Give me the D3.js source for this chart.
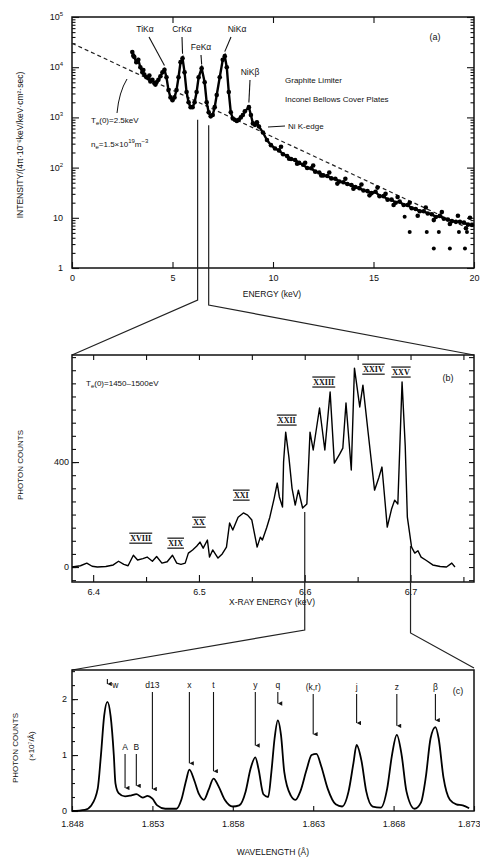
<!DOCTYPE html>
<html>
<head>
<meta charset="utf-8">
<script src="https://cdn.jsdelivr.net/npm/d3@7"></script>
<style>
  body { margin: 0; background: #fff; }
  svg { display: block; font-family: "Liberation Sans", Arial, sans-serif; }
  .axis path { display: none; }
  .axis line { stroke: #111; stroke-width: 1.1; }
  .axis text { fill: #111; font-size: 9px; }
  text { fill: #111; }
</style>
</head>
<body>
<svg></svg>
<script>
// ---------- panel (a): broad-band spectrum ----------
const aEnergy = [3.0,3.1,3.2,3.3,3.4,3.5,3.6,3.7,3.8,3.9,4.0,4.1,4.2,4.3,4.4,4.5,4.6,4.7,4.8,4.9,
  5.0,5.1,5.2,5.3,5.4,5.5,5.6,5.7,5.8,5.9,6.0,6.1,6.2,6.3,6.45,6.6,6.7,6.8,6.9,7.0,
  7.1,7.2,7.35,7.5,7.6,7.7,7.8,7.9,8.0,8.1,8.2,8.3,8.4,8.5,8.6,8.8,8.9,9.0,9.1,9.2,
  9.3,9.5,9.7,9.9,10.1,10.3,10.5,10.7,10.9,11.1,11.3,11.5,11.7,11.9,12.1,12.3,12.5,12.7,12.9,13.1,
  13.3,13.5,13.7,13.9,14.1,14.3,14.5,14.7,14.9,15.1,15.3,15.5,15.7,15.9,16.1,16.3,16.5,16.7,16.9,17.1,
  17.3,17.5,17.7,17.9,18.1,18.3,18.5,18.7,18.9,19.1,19.3,19.5,19.7,19.9];
const aIntensity = [20000,16000,12600,14000,10000,7900,7100,6300,6000,5200,5600,4800,5000,5600,6600,7900,8900,6300,3500,2500,
  2200,2500,3500,6300,12600,15000,7900,3200,2000,1600,1600,2000,3200,6300,9500,5000,2000,1260,1050,1120,
  1600,2800,6300,14000,16600,10000,3200,1260,950,900,850,900,1000,1120,1320,1600,1120,760,710,800,
  660,500,355,280,240,220,185,170,148,142,124,114,98,97,83,80,70,68,61,60,
  53,51,47,45,41,39,35,34,31,33,27,27,23,23,20,21,18,18,15.5,15,
  13.5,13.5,12.2,11.8,10.4,10.9,9.6,9.2,8.6,8.3,8.3,8.0,7.3,7.2];
const aExtraE = [3.05,3.25,3.55,3.85,4.15,10.4,10.8,11.2,11.6,12.0,12.4,12.8,13.2,13.6,14.0,14.4,14.8,15.2,15.6,16.0,16.2,16.8,17.2,17.6,18.0,18.4,18.8,19.2,19.6,19.8];
const aExtraI = [17000,13000,8800,6800,4500,260,150,120,125,110,70,80,48,60,38,46,28,40,30,18,26,20,11,16,9,13,7.5,11,6.2,10];
const aOutE = [16.55,16.8,17.65,18.25,19.25,19.65,18.0,18.8,19.55];
const aOutI = [10.5,5.2,5.2,5.2,5.2,5.2,2.45,2.45,2.45];
const aFitE = [0, 19.6];
const aFitI = [30000, 6.5];
const aYTicks = [1, 10, 100, 1000, 10000, 100000];
const aYTickLabels = [["1",""],["10",""],["10","2"],["10","3"],["10","4"],["10","5"]];
const aLineNames = ["TiKα","CrKα","FeKα","NiKα","NiKβ"];
const aLineE = [4.6, 5.5, 6.45, 7.6, 8.8];
const aLineI = [9000, 15500, 9600, 17000, 1650];

// ---------- panel (b): Fe K spectrum ----------
const bEnergy = [6.380,6.388,6.394,6.399,6.404,6.412,6.419,6.424,6.429,6.433,6.438,6.442,6.447,6.451,6.456,6.460,6.465,6.470,6.475,6.479,
  6.483,6.487,6.490,6.494,6.498,6.501,6.504,6.508,6.510,6.513,6.518,6.522,6.526,6.529,6.532,6.537,6.542,6.546,6.550,6.555,
  6.558,6.560,6.564,6.567,6.571,6.574,6.576,6.579,6.580,6.582,6.585,6.588,6.591,6.594,6.598,6.602,6.605,6.608,6.614,6.619,
  6.624,6.628,6.633,6.636,6.639,6.644,6.647,6.652,6.655,6.660,6.666,6.670,6.673,6.676,6.678,6.682,6.685,6.688,6.692,6.695,
  6.697,6.701,6.704,6.707,6.710,6.715,6.721,6.728,6.734,6.739,6.742];
const bCounts = [0,5,15,3,0,2,8,22,10,5,45,27,32,38,22,40,15,20,45,15,
  10,15,53,65,80,95,72,103,38,65,34,50,76,168,141,190,206,198,179,76,
  114,103,150,190,260,320,267,229,400,514,420,300,236,293,225,240,514,446,606,446,
  667,396,430,453,625,370,758,610,693,510,293,340,381,244,152,220,255,240,705,460,
  190,76,53,62,38,25,8,2,0,15,0];
const bIons = ["XVIII","XIX","XX","XXI","XXII","XXIII","XXIV","XXV"];
const bIonE = [6.445,6.478,6.500,6.540,6.583,6.618,6.665,6.691];
const bIonC = [110,91,171,274,560,705,754,743];

// ---------- panel (c): He-like Fe resonance region ----------
const cLambda = [1.8480,1.8488,1.8492,1.8496,1.8498,1.8500,1.8502,1.8504,1.8506,1.8507,1.8509,1.8513,1.8517,1.8520,1.8524,1.8527,1.8530,1.8533,1.8538,1.8545,
  1.8548,1.8551,1.8553,1.8556,1.8559,1.8562,1.8565,1.8568,1.8571,1.8575,1.8580,1.8584,1.8588,1.8591,1.8594,1.8596,1.8599,1.8602,1.8604,1.8606,
  1.8608,1.8610,1.8612,1.8616,1.8619,1.8622,1.8626,1.8629,1.8632,1.8635,1.8639,1.8644,1.8648,1.8652,1.8655,1.8657,1.8660,1.8663,1.8667,1.8672,
  1.8676,1.8679,1.8682,1.8685,1.8688,1.8693,1.8697,1.8700,1.8703,1.8706,1.8708,1.8711,1.8715,1.8719,1.8723,1.8727];
const cCounts = [0,0.02,0.1,0.4,1.0,1.7,1.95,1.7,1.0,0.5,0.32,0.26,0.28,0.3,0.24,0.27,0.22,0.1,0.04,0.04,
  0.2,0.55,0.74,0.55,0.3,0.2,0.38,0.58,0.45,0.2,0.08,0.1,0.35,0.75,0.96,0.75,0.3,0.25,0.7,1.3,
  1.62,1.35,0.7,0.28,0.2,0.35,0.75,1.0,1.02,0.8,0.4,0.12,0.08,0.35,0.85,1.18,0.9,0.35,0.08,0.06,
  0.4,1.0,1.36,1.0,0.35,0.04,0.15,0.6,1.3,1.5,1.3,0.6,0.2,0.12,0.1,0.05];
const cNames = ["w","A","B","d13","x","t","y","q","(k,r)","j","z","β"];
const cNameLambda = [1.8502,1.8513,1.8520,1.8530,1.8553,1.8568,1.8594,1.8608,1.8630,1.8657,1.8682,1.8706];
const cArrowTip = [2.2,0.34,0.38,0.32,0.78,0.64,1.1,1.85,1.3,1.5,1.45,1.55];

// ---------- layout ----------
const width = 480, height = 863;
const left = 72, right = 474;
const svg = d3.select("svg").attr("width", width).attr("height", height);

function frame(top, bottom) {
  svg.append("rect").attr("x", left).attr("y", top)
    .attr("width", right - left).attr("height", bottom - top)
    .attr("fill", "none").attr("stroke", "#111").attr("stroke-width", 1.5);
}
function addAxis(axis, tx, ty, showText) {
  const g = svg.append("g").attr("class", "axis")
    .attr("transform", `translate(${tx},${ty})`).call(axis);
  if (!showText) g.selectAll("text").remove();
  return g;
}
function range(a, b, s) { return d3.range(a, b + s / 2, s); }

// ======== panel (a) ========
const aTop = 17, aBot = 268;
const xA = d3.scaleLinear().domain([0, 20]).range([left, right]);
const yA = d3.scaleLog().domain([1, 1e5]).range([aBot, aTop]);
const aMinor = [];
aYTicks.slice(0, -1).forEach(d => { for (let k = 2; k <= 9; k++) aMinor.push(d * k); });

frame(aTop, aBot);
addAxis(d3.axisBottom(xA).tickValues([0, 5, 10, 15, 20]).tickSize(-6).tickPadding(7), 0, aBot, true);
addAxis(d3.axisTop(xA).tickValues([5, 10, 15]).tickSize(-6), 0, aTop, false);
addAxis(d3.axisLeft(yA).tickValues(aYTicks).tickSize(-7), left, 0, false);
addAxis(d3.axisLeft(yA).tickValues(aMinor).tickSize(-3.5), left, 0, false);
addAxis(d3.axisRight(yA).tickValues(aYTicks).tickSize(-7), right, 0, false);
addAxis(d3.axisRight(yA).tickValues(aMinor).tickSize(-3.5), right, 0, false);

aYTicks.forEach((v, i) => {
  const t = svg.append("text").attr("x", 63).attr("y", yA(v) + 3)
    .attr("text-anchor", "end").style("font-size", "9px");
  t.append("tspan").text(aYTickLabels[i][0]);
  if (aYTickLabels[i][1]) t.append("tspan").attr("dy", -4).style("font-size", "6px").text(aYTickLabels[i][1]);
});

// exponential fit (dashed)
svg.append("line")
  .attr("x1", xA(aFitE[0])).attr("y1", yA(aFitI[0]))
  .attr("x2", xA(aFitE[1])).attr("y2", yA(aFitI[1]))
  .attr("stroke", "#222").attr("stroke-width", 1.2).attr("stroke-dasharray", "4,3");

const aPts = aEnergy.map((e, i) => [e, aIntensity[i]]);
svg.append("path").datum(aPts)
  .attr("d", d3.line().x(d => xA(d[0])).y(d => yA(d[1])))
  .attr("fill", "none").attr("stroke", "#000").attr("stroke-width", 2.4);
svg.append("g").selectAll("circle").data(aPts.concat(aExtraE.map((e, i) => [e, aExtraI[i]])))
  .join("circle").attr("cx", d => xA(d[0])).attr("cy", d => yA(d[1])).attr("r", 2.3).attr("fill", "#000");
svg.append("g").selectAll("circle").data(aOutE.map((e, i) => [e, aOutI[i]]))
  .join("circle").attr("cx", d => xA(d[0])).attr("cy", d => yA(d[1])).attr("r", 2).attr("fill", "#000");

// line identifications
const aLabelPos = [[145, 32], [182, 32], [201, 50], [237, 32], [250, 75]];
aLineNames.forEach((n, i) => {
  const [lx, ly] = aLabelPos[i];
  svg.append("text").attr("x", lx).attr("y", ly).attr("text-anchor", "middle")
    .style("font-size", "8.5px").text(n);
  svg.append("line").attr("x1", lx + (i === 0 ? 4 : i === 3 ? -6 : 0)).attr("y1", ly + 5)
    .attr("x2", xA(aLineE[i])).attr("y2", yA(aLineI[i]) - 4)
    .attr("stroke", "#111").attr("stroke-width", 1.1);
});
svg.append("text").attr("x", 435).attr("y", 40).attr("text-anchor", "middle").style("font-size", "9px").text("(a)");
svg.append("text").attr("x", 285).attr("y", 83).style("font-size", "8px").text("Graphite Limiter");
svg.append("text").attr("x", 285).attr("y", 102).style("font-size", "8px").text("Inconel Bellows Cover Plates");
svg.append("text").attr("x", 288).attr("y", 129).style("font-size", "8px").text("Ni K-edge");
svg.append("line").attr("x1", 268).attr("y1", 127).attr("x2", 285).attr("y2", 126).attr("stroke", "#111");
const te = svg.append("text").attr("x", 91).attr("y", 123).style("font-size", "8px");
te.append("tspan").text("T");
te.append("tspan").attr("dy", 2).style("font-size", "6px").text("e");
te.append("tspan").attr("dy", -2).text("(0)=2.5keV");
const ne = svg.append("text").attr("x", 91).attr("y", 147).style("font-size", "8px");
ne.append("tspan").text("n");
ne.append("tspan").attr("dy", 2).style("font-size", "6px").text("e");
ne.append("tspan").attr("dy", -2).text("=1.5×10");
ne.append("tspan").attr("dy", -4).style("font-size", "6px").text("19");
ne.append("tspan").attr("dy", 4).text("m");
ne.append("tspan").attr("dy", -4).style("font-size", "6px").text("−3");
svg.append("path").attr("d", "M117,113 Q119,92 127,79").attr("fill", "none").attr("stroke", "#111");
svg.append("text").attr("transform", "translate(23,145) rotate(-90)").attr("text-anchor", "middle")
  .style("font-size", "8.5px").text("INTENSITY/(4π·10⁻⁶keV/keV·cm²·sec)");
svg.append("text").attr("x", 272).attr("y", 297).attr("text-anchor", "middle")
  .style("font-size", "8.5px").text("ENERGY (keV)");

// ======== panel (b) ========
const bTop = 355, bBot = 582;
const xB = d3.scaleLinear().domain([6.38, 6.76]).range([left, right]);
const yB = d3.scaleLinear().domain([-57, 808]).range([bBot, bTop]);

// zoom connectors from (a) to (b)
svg.append("path").attr("d", `M${xA(6.25)},${yA(900)} V300 L${left},${bTop}`)
  .attr("fill", "none").attr("stroke", "#222").attr("stroke-width", 1.2);
svg.append("path").attr("d", `M${xA(6.8)},${yA(700)} V305 L${right},${bTop}`)
  .attr("fill", "none").attr("stroke", "#222").attr("stroke-width", 1.2);

frame(bTop, bBot);
addAxis(d3.axisBottom(xB).tickValues([6.4, 6.5, 6.6, 6.7]).tickSize(-7).tickPadding(7).tickFormat(d3.format(".1f")), 0, bBot, true);
addAxis(d3.axisBottom(xB).tickValues([6.45, 6.55, 6.65, 6.75]).tickSize(-5), 0, bBot, false);
addAxis(d3.axisTop(xB).tickValues([6.4, 6.45, 6.5, 6.55, 6.6, 6.65, 6.7, 6.75]).tickSize(-5), 0, bTop, false);
addAxis(d3.axisLeft(yB).tickValues([0, 400]).tickSize(-7).tickPadding(3), left, 0, true);
addAxis(d3.axisLeft(yB).tickValues(range(-50, 800, 50)).tickSize(-4), left, 0, false);
addAxis(d3.axisRight(yB).tickValues(range(-50, 800, 50)).tickSize(-5), right, 0, false);

svg.append("path").datum(bEnergy.map((e, i) => [e, bCounts[i]]))
  .attr("d", d3.line().x(d => xB(d[0])).y(d => yB(d[1])))
  .attr("fill", "none").attr("stroke", "#000").attr("stroke-width", 1.4).attr("stroke-linejoin", "round");

bIons.forEach((n, i) => {
  const cx = xB(bIonE[i]), cy = yB(bIonC[i]);
  const t = svg.append("text").attr("x", cx).attr("y", cy + 3).attr("text-anchor", "middle")
    .style("font-size", "8px").style("font-family", "'Liberation Serif', serif").style("font-weight", "bold").text(n);
  const w = t.node().getComputedTextLength() + 2;
  [cy - 5, cy + 5].forEach(yy => svg.append("line")
    .attr("x1", cx - w / 2).attr("x2", cx + w / 2).attr("y1", yy).attr("y2", yy)
    .attr("stroke", "#111").attr("stroke-width", 1.2));
});
const tb = svg.append("text").attr("x", 86).attr("y", 386).style("font-size", "8px");
tb.append("tspan").text("T");
tb.append("tspan").attr("dy", 2).style("font-size", "6px").text("e");
tb.append("tspan").attr("dy", -2).text("(0)=1450–1500eV");
svg.append("text").attr("x", 448).attr("y", 381).attr("text-anchor", "middle").style("font-size", "9px").text("(b)");
svg.append("text").attr("transform", "translate(23,465) rotate(-90)").attr("text-anchor", "middle")
  .style("font-size", "8px").text("PHOTON COUNTS");
svg.append("text").attr("x", 272).attr("y", 605).attr("text-anchor", "middle")
  .style("font-size", "8.5px").text("X-RAY ENERGY (keV)");

// ======== panel (c) ========
const cTop = 670, cBot = 811;
const xC = d3.scaleLinear().domain([1.848, 1.873]).range([left, right]);
const yC = d3.scaleLinear().domain([0, 2.52]).range([cBot, cTop]);

// zoom connectors from (b) to (c)
svg.append("path").attr("d", `M${xB(6.6)},${yB(225) + 4} V630 L${left},${cTop}`)
  .attr("fill", "none").attr("stroke", "#222").attr("stroke-width", 1.2);
svg.append("path").attr("d", `M${xB(6.7)},${yB(80)} V633 L${right},${cTop - 2}`)
  .attr("fill", "none").attr("stroke", "#222").attr("stroke-width", 1.2);

frame(cTop, cBot);
const cx = addAxis(d3.axisBottom(xC).tickValues(range(1.848, 1.873, 0.005)).tickSize(-5).tickPadding(10).tickFormat(d3.format(".3f")), 0, cBot, true);
cx.selectAll(".tick:last-of-type text").attr("text-anchor", "end").attr("x", 6);
addAxis(d3.axisLeft(yC).tickValues([0, 1, 2]).tickSize(-6).tickPadding(5).tickFormat(d3.format("d")), left, 0, true);
addAxis(d3.axisLeft(yC).tickValues(range(0.25, 2.5, 0.25)).tickSize(-3), left, 0, false);

svg.append("path").datum(cLambda.map((l, i) => [l, cCounts[i]]))
  .attr("d", d3.line().curve(d3.curveMonotoneX).x(d => xC(d[0])).y(d => yC(d[1])))
  .attr("fill", "none").attr("stroke", "#000").attr("stroke-width", 1.8);

svg.append("defs").append("marker").attr("id", "arr")
  .attr("viewBox", "0 0 6 6").attr("refX", 3).attr("refY", 6)
  .attr("markerWidth", 4).attr("markerHeight", 5).attr("orient", "auto-start-reverse")
  .append("path").attr("d", "M0,0 L3,6 L6,0 Z").attr("fill", "#111");

cNames.forEach((n, i) => {
  const x = xC(cNameLambda[i]);
  const low = (n === "A" || n === "B");
  const labelY = low ? 750 : (i <= 7 ? 688 : 690);
  let lx = x, y1 = labelY + 4;
  if (n === "w") { lx = x + 8; y1 = 679; }
  svg.append("text").attr("x", lx).attr("y", labelY).attr("text-anchor", "middle")
    .style("font-size", "8.5px").text(n);
  const tipY = yC(cArrowTip[i]);
  svg.append("line").attr("x1", x).attr("x2", x).attr("y1", y1).attr("y2", tipY - 4)
    .attr("stroke", "#111").attr("stroke-width", 1.1).attr("marker-end", "url(#arr)");
});
svg.append("text").attr("x", 458).attr("y", 694).attr("text-anchor", "middle").style("font-size", "9px").text("(c)");
svg.append("text").attr("transform", "translate(18,748) rotate(-90)").attr("text-anchor", "middle")
  .style("font-size", "8px").text("PHOTON COUNTS");
svg.append("text").attr("transform", "translate(34,746) rotate(-90)").attr("text-anchor", "middle")
  .style("font-size", "8px").text("(×10⁷/Å)");
svg.append("text").attr("x", 273).attr("y", 855).attr("text-anchor", "middle")
  .style("font-size", "8.5px").text("WAVELENGTH (Å)");
</script>
</body>
</html>
